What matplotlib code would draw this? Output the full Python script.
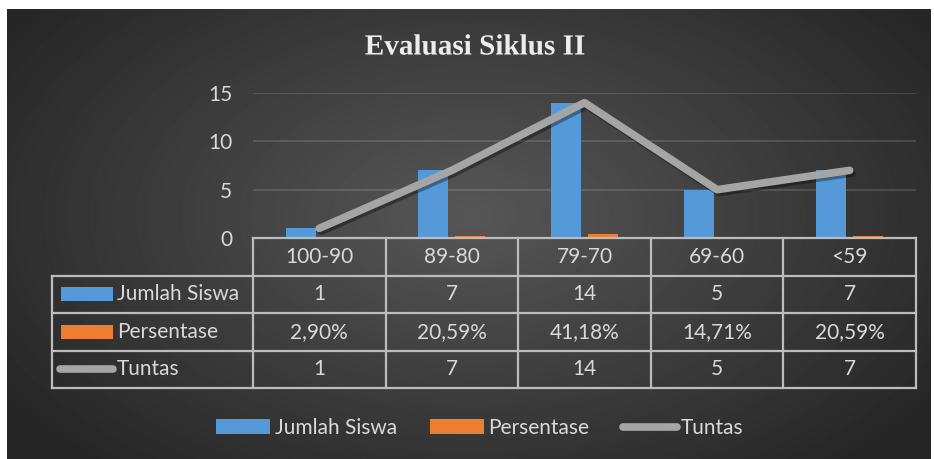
import numpy as np
import matplotlib
matplotlib.use("Agg")
from matplotlib import pyplot as plt
from matplotlib.patches import Patch, Rectangle
from matplotlib.lines import Line2D
import matplotlib.patheffects as pe

categories = ["100-90", "89-80", "79-70", "69-60", "<59"]
jumlah_siswa = [1, 7, 14, 5, 7]
persentase = [0.0290, 0.2059, 0.4118, 0.1471, 0.2059]
persentase_labels = ["2,90%", "20,59%", "41,18%", "14,71%", "20,59%"]
tuntas = [1, 7, 14, 5, 7]
series_names = ["Jumlah Siswa", "Persentase", "Tuntas"]
yticks = [0, 5, 10, 15]
title = "Evaluasi Siklus II"

W, H = 934, 459
BLUE = "#5599d8"
ORANGE = "#ed7d31"
GRAY = "#a5a5a5"
TEXT = "#d9d9d9"
RULE = "#bcbcbc"
FS = 15

plt.rcParams["font.family"] = ["Lato", "DejaVu Sans"]


def fig_box(x0, y0, x1, y1):
    # pixel box, origin top-left -> figure fraction rect
    return [x0 / W, 1 - y1 / H, (x1 - x0) / W, (y1 - y0) / H]


fig = plt.figure(figsize=(W / 100, H / 100), dpi=100, facecolor="white")

# dark radial background
bg = fig.add_axes([0, 0, 1, 1])
yy, xx = np.mgrid[9:H, 7:931]
r = np.sqrt(((xx - 470) / 560.0) ** 2 + ((yy - 215) / 330.0) ** 2)
shade = 0.34 - (0.34 - 0.15) * np.clip(r, 0, 1)
bg.imshow(shade, cmap="gray", vmin=0, vmax=1, extent=(7, 931, H, 9),
          interpolation="bilinear", aspect="auto")
bg.set_xlim(0, W)
bg.set_ylim(H, 0)
bg.axis("off")

# plot area
ax = fig.add_axes(fig_box(253, 93, 916, 238))
ax.patch.set_alpha(0)
x = np.arange(len(categories))
ax.bar(x - 0.14, jumlah_siswa, 0.226, color=BLUE, zorder=2)
ax.bar(x + 0.14, persentase, 0.226, color=ORANGE, zorder=2)
ax.plot(x, tuntas, color=GRAY, lw=5.5, solid_capstyle="round",
        solid_joinstyle="round", zorder=3,
        path_effects=[pe.SimpleLineShadow(offset=(1.5, -2), shadow_color="black", alpha=0.35),
                      pe.Normal()])
ax.set_xlim(-0.5, len(categories) - 0.5)
ax.set_ylim(0, 15)
ax.set_yticks(yticks)
ax.set_xticks([])
ax.tick_params(axis="y", length=0, pad=15, labelcolor=TEXT, labelsize=FS)
for s in ax.spines.values():
    s.set_visible(False)
ax.grid(axis="y", color="white", alpha=0.13, lw=1.5)
ax.set_axisbelow(True)

# data table
catw = (916 - 253) / len(categories)
lead = (253 - 52) / catw
left = -0.5 - lead
right = len(categories) - 0.5
tab = fig.add_axes(fig_box(52, 238, 916, 388))
tab.set_xlim(left, right)
tab.set_ylim(4, 0)
tab.axis("off")

line_kw = dict(color=RULE, lw=1.6, clip_on=False, solid_capstyle="projecting")
tab.plot([-0.5, right], [0, 0], **line_kw)
for row in range(1, 5):
    tab.plot([left, right], [row, row], **line_kw)
tab.plot([left, left], [1, 4], **line_kw)
for k in range(len(categories) + 1):
    tab.plot([k - 0.5, k - 0.5], [0, 4], **line_kw)

rows = [[str(v) for v in jumlah_siswa], persentase_labels, [str(v) for v in tuntas]]
for i, cat in enumerate(categories):
    tab.text(i, 0.5, cat, ha="center", va="center", color=TEXT, fontsize=FS)
    for j, vals in enumerate(rows):
        tab.text(i, j + 1.5, vals[i], ha="center", va="center", color=TEXT, fontsize=FS)

px = 1 / catw
for j, col in enumerate([BLUE, ORANGE]):
    tab.add_patch(Rectangle((left + 9 * px, j + 1.5 - 0.19), 52 * px, 0.38,
                            facecolor=col, edgecolor="none"))
for j, name in enumerate(series_names):
    tab.text(left + 65 * px, j + 1.5, name, ha="left", va="center",
             color=TEXT, fontsize=FS)
tab.plot([left + 8 * px, left + 61 * px], [3.5, 3.5], color=GRAY, lw=5.5,
         solid_capstyle="round")

# legend
handles = [Patch(facecolor=BLUE, edgecolor="none"),
           Patch(facecolor=ORANGE, edgecolor="none"),
           Line2D([], [], color=GRAY, lw=5.5, solid_capstyle="round")]
leg = fig.legend(handles, series_names, loc="center", ncol=3,
                 bbox_to_anchor=(480 / W, 1 - 428 / H), frameon=False,
                 fontsize=FS, handlelength=2.6, handleheight=0.75,
                 handletextpad=0.2, columnspacing=1.6)
for t in leg.get_texts():
    t.set_color(TEXT)

fig.text(475 / W, 1 - 47 / H, title, ha="center", va="center",
         family="Liberation Serif", weight="bold", fontsize=21, color="#ececec",
         path_effects=[pe.SimpleLineShadow(offset=(1.5, -1.5), alpha=0.5), pe.Normal()])

fig.savefig("out.png", dpi=100, facecolor="white")
